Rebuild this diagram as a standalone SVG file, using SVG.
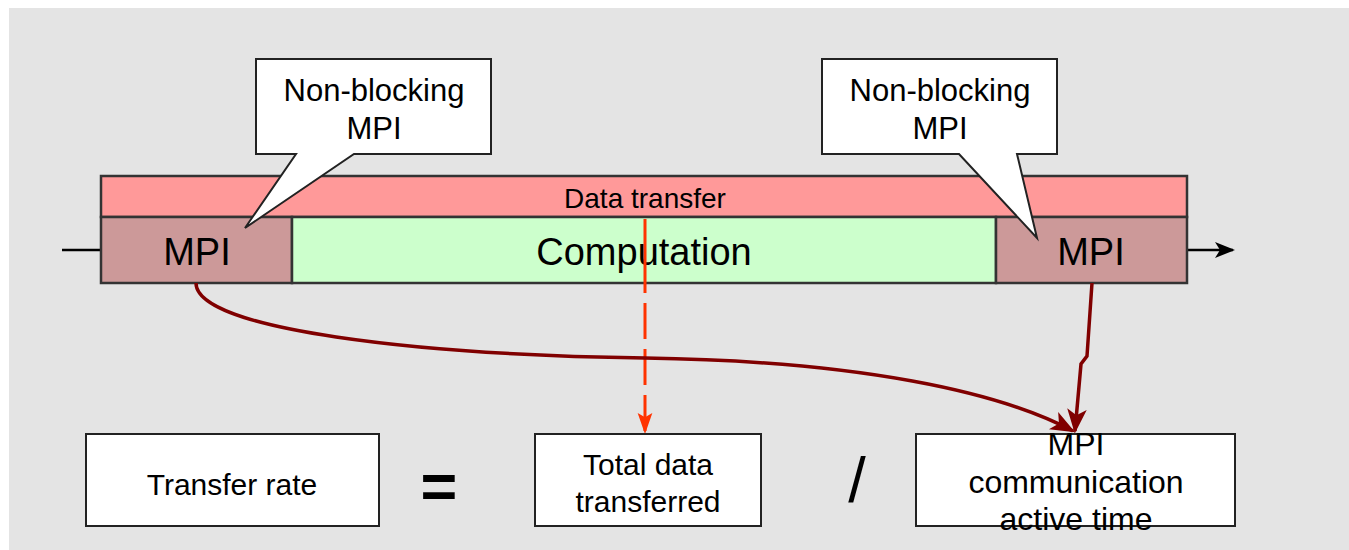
<svg xmlns="http://www.w3.org/2000/svg" width="1349" height="550" viewBox="0 0 1349 550">
<defs>
<style>
text{font-family:"Liberation Sans",Arial,sans-serif;fill:#000;text-anchor:middle}
.bar{stroke:#333;stroke-width:2.5}
.box{fill:#fff;stroke:#222;stroke-width:2}
.conn{fill:none;stroke:#800000;stroke-width:3.5}
</style>
<marker id="ah" viewBox="0 0 20 20" refX="18" refY="10" markerWidth="7" markerHeight="7" markerUnits="strokeWidth" orient="auto">
<path d="M0,2 L20,10 L0,18 L5,10 Z" fill="#800000"/>
</marker>
<marker id="ahr" viewBox="0 0 20 20" refX="18" refY="10" markerWidth="7" markerHeight="7" markerUnits="strokeWidth" orient="auto">
<path d="M0,3 L20,10 L0,17 L4,10 Z" fill="#ff3300"/>
</marker>
<marker id="ahk" viewBox="0 0 20 20" refX="18" refY="10" markerWidth="8" markerHeight="8" markerUnits="strokeWidth" orient="auto">
<path d="M0,2 L20,10 L0,18 L5,10 Z" fill="#000"/>
</marker>
</defs>
<rect x="0" y="0" width="1349" height="550" fill="#fff"/>
<rect x="9" y="8" width="1340" height="542" fill="#e4e4e4"/>

<g id="timeline">
<line x1="62" y1="250" x2="101" y2="250" stroke="#000" stroke-width="2.5"/>
<line x1="1187" y1="250" x2="1233" y2="250" stroke="#000" stroke-width="2.5" marker-end="url(#ahk)"/>
</g>

<g id="data-transfer">
<rect class="bar" x="101" y="176" width="1086" height="41" fill="#ff9999"/>
<text x="645" y="208" font-size="28">Data transfer</text>
</g>
<g id="mpi-left">
<rect class="bar" x="101" y="217" width="191" height="66" fill="#cc9999"/>
<text x="197" y="265" font-size="38">MPI</text>
</g>
<g id="computation">
<rect class="bar" x="292" y="217" width="704" height="66" fill="#ccffcc"/>
<text x="644" y="265" font-size="38">Computation</text>
</g>
<g id="mpi-right">
<rect class="bar" x="996" y="217" width="191" height="66" fill="#cc9999"/>
<text x="1091" y="265" font-size="38">MPI</text>
</g>

<g id="callout-left">
<path class="box" d="M256,59 H491 V154 H354 L245,228 L296,154 H256 Z"/>
<text x="374" y="101" font-size="31">Non-blocking</text>
<text x="374" y="139" font-size="31">MPI</text>
</g>
<g id="callout-right">
<path class="box" d="M822,59 H1057 V154 H1017 L1037,238 L959,154 H822 Z"/>
<text x="940" y="101" font-size="31">Non-blocking</text>
<text x="940" y="139" font-size="31">MPI</text>
</g>

<g id="connectors">
<line x1="645" y1="219" x2="645" y2="432" stroke="#ff3300" stroke-width="3" stroke-dasharray="74,10,36,10,36,10,36,10,36,10" marker-end="url(#ahr)"/>
<path class="conn" d="M196,283 C196,330 420,355 645,358 C860,361 1000,392 1073,431" marker-end="url(#ah)"/>
<path class="conn" d="M1092,283 L1087,356 L1081,364 L1075,431" marker-end="url(#ah)"/>
</g>

<g id="transfer-rate">
<rect class="box" x="86" y="434" width="293" height="92"/>
<text x="232" y="495" font-size="30">Transfer rate</text>
</g>
<g id="equals">
<text x="439" y="508" font-size="63" font-weight="bold">=</text>
</g>
<g id="total-data">
<rect class="box" x="535" y="434" width="226" height="92"/>
<text x="648" y="475" font-size="30">Total data</text>
<text x="648" y="512" font-size="30">transferred</text>
</g>
<g id="divide">
<text x="857" y="502" font-size="63">/</text>
</g>
<g id="mpi-time">
<rect class="box" x="916" y="434" width="319" height="92"/>
<text x="1076" y="455" font-size="32">MPI</text>
<text x="1076" y="493" font-size="32">communication</text>
<text x="1076" y="530" font-size="32">active time</text>
</g>
</svg>
